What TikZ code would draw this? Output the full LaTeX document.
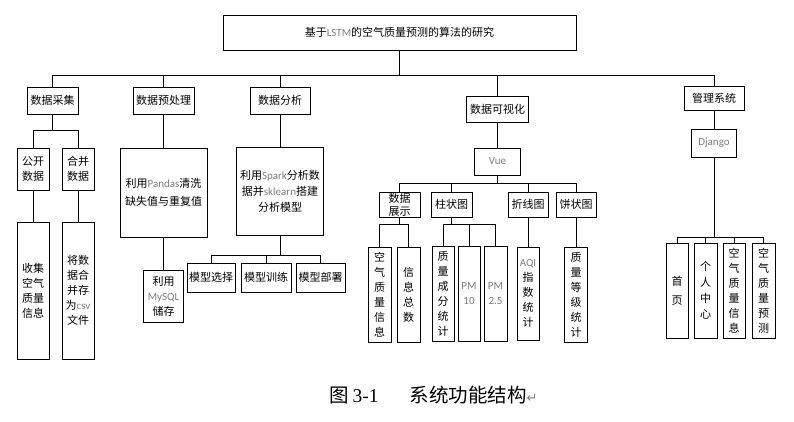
\documentclass[tikz,border=0pt]{standalone}
\usepackage{fontspec}
\setmainfont{Liberation Serif}
\newfontfamily\cjkfont{Noto Sans CJK SC}
\newfontfamily\latfont{Carlito}
\newfontfamily\symfont{DejaVu Sans}
\definecolor{latgray}{RGB}{125,125,125}
\newcommand{\lat}[1]{{\latfont\color{latgray}#1}}
\tikzset{
  box/.style={draw, line width=0.9pt, inner sep=0pt, align=center,
    font=\cjkfont\fontsize{11}{13}\selectfont},
  tallbox/.style={box, font=\cjkfont\fontsize{11}{15}\selectfont},
  link/.style={line width=0.9pt}
}
\begin{document}
\begin{tikzpicture}[x=1pt, y=-1pt]
    \useasboundingbox (0,0) rectangle (794,422);
    % root and first level
    \node[box, minimum width=353pt, minimum height=35pt] (root) at (399.5,32.5) {基于\lat{LSTM}的空气质量预测的算法的研究};
    \node[box, minimum width=51pt, minimum height=27pt] (collect) at (52.5,100.5) {数据采集};
    \node[box, minimum width=61pt, minimum height=27pt] (prep) at (163.5,100.5) {数据预处理};
    \node[box, minimum width=60pt, minimum height=27pt] (analy) at (280,100.5) {数据分析};
    \node[box, minimum width=62pt, minimum height=26pt] (visual) at (497.5,109) {数据可视化};
    \node[box, minimum width=60pt, minimum height=24pt] (manage) at (714,98) {管理系统};
    \coordinate (bus0) at (399.5,75);
    \draw[link] (root.south) -- (bus0);
    \draw[link] (bus0) -| (collect.north);
    \draw[link] (bus0) -| (prep.north);
    \draw[link] (bus0) -| (analy.north);
    \draw[link] (bus0) -| (visual.north);
    \draw[link] (bus0) -| (manage.north);

    % data collection
    \node[tallbox, minimum width=32pt, minimum height=42pt] (open) at (33,169) {公开\\数据};
    \node[tallbox, minimum width=32pt, minimum height=42pt] (merge) at (78,169) {合并\\数据};
    \node[tallbox, minimum width=32pt, minimum height=137pt] (gather) at (33,290.5) {收集\\空气\\质量\\信息};
    \node[tallbox, minimum width=32pt, minimum height=137pt] (savecsv) at (78,290.5) {将数\\据合\\并存\\为\lat{csv}\\文件};
    \coordinate (bus1) at (52.5,130);
    \draw[link] (collect.south) -- (bus1);
    \draw[link] (bus1) -| (open.north);
    \draw[link] (bus1) -| (merge.north);
    \draw[link] (open.south) -- (gather.north);
    \draw[link] (merge.south) -- (savecsv.north);

    % preprocessing
    \node[box, minimum width=87pt, minimum height=89pt, font=\cjkfont\fontsize{11}{18}\selectfont] (pandas) at (163.5,192.5) {利用\lat{Pandas}清洗\\缺失值与重复值};
    \node[tallbox, minimum width=40pt, minimum height=52pt] (mysql) at (163.5,296) {利用\\\lat{MySQL}\\储存};
    \draw[link] (prep.south) -- (pandas.north);
    \draw[link] (pandas.south) -- (mysql.north);

    % analysis
    \node[box, minimum width=87pt, minimum height=88pt, font=\cjkfont\fontsize{11}{16}\selectfont] (spark) at (280,191) {利用\lat{Spark}分析数\\据并\lat{sklearn}搭建\\分析模型};
    \node[box, minimum width=48pt, minimum height=29pt] (choose) at (211,277.5) {模型选择};
    \node[box, minimum width=50pt, minimum height=29pt] (train) at (266,277.5) {模型训练};
    \node[box, minimum width=49pt, minimum height=29pt] (deploy) at (320.5,277.5) {模型部署};
    \coordinate (bus3) at (280,255);
    \draw[link] (analy.south) -- (spark.north);
    \draw[link] (spark.south) -- (bus3);
    \draw[link] (bus3) -| (choose.north);
    \draw[link] (bus3) -| (train.north);
    \draw[link] (bus3) -| (deploy.north);

    % visualisation
    \node[box, minimum width=46pt, minimum height=27pt] (vue) at (497.5,161.5) {\lat{Vue}};
    \node[box, minimum width=41pt, minimum height=25pt] (show) at (399.5,204.5) {数据\\展示};
    \node[box, minimum width=41pt, minimum height=25pt] (bar) at (451.5,204.5) {柱状图};
    \node[box, minimum width=40pt, minimum height=25pt] (line) at (528,204.5) {折线图};
    \node[box, minimum width=40pt, minimum height=25pt] (pie) at (576,204.5) {饼状图};
    \coordinate (bus4) at (497.5,183);
    \draw[link] (visual.south) -- (vue.north);
    \draw[link] (vue.south) -- (bus4);
    \draw[link] (bus4) -| (show.north);
    \draw[link] (bus4) -| (bar.north);
    \draw[link] (bus4) -| (line.north);
    \draw[link] (bus4) -| (pie.north);

    \node[tallbox, minimum width=23pt, minimum height=95pt] (airinfo) at (379.5,294.5) {空\\气\\质\\量\\信\\息};
    \node[tallbox, minimum width=23pt, minimum height=95pt] (total) at (408.5,294.5) {信\\息\\总\\数};
    \node[tallbox, minimum width=22pt, minimum height=95pt] (comp) at (443,293.5) {质\\量\\成\\分\\统\\计};
    \node[tallbox, minimum width=22pt, minimum height=95pt] (pmten) at (469,293.5) {\lat{PM}\\\lat{10}};
    \node[tallbox, minimum width=23pt, minimum height=95pt] (pmtwo) at (495.5,293.5) {\lat{PM}\\\lat{2.5}};
    \node[tallbox, minimum width=22pt, minimum height=93pt] (aqi) at (528,293.5) {\lat{AQI}\\指\\数\\统\\计};
    \node[tallbox, minimum width=23pt, minimum height=95pt] (level) at (576,294.5) {质\\量\\等\\级\\统\\计};
    \coordinate (bus41) at (399.5,224);
    \coordinate (bus42) at (451.5,224);
    \draw[link] (show.south) -- (bus41);
    \draw[link] (bus41) -| (airinfo.north);
    \draw[link] (bus41) -| (total.north);
    \draw[link] (bar.south) -- (bus42);
    \draw[link] (bus42) -| (comp.north);
    \draw[link] (bus42) -| (pmten.north);
    \draw[link] (bus42) -| (pmtwo.north);
    \draw[link] (line.south) -- (aqi.north);
    \draw[link] (pie.south) -- (level.north);

    % management
    \node[box, minimum width=45pt, minimum height=28pt] (django) at (714,143) {\lat{Django}};
    \node[tallbox, minimum width=22pt, minimum height=95pt, font=\cjkfont\fontsize{11}{19}\selectfont] (home) at (677,290.5) {首\\页};
    \node[tallbox, minimum width=23pt, minimum height=95pt, font=\cjkfont\fontsize{11}{16}\selectfont] (user) at (705.5,290.5) {个\\人\\中\\心};
    \node[tallbox, minimum width=22pt, minimum height=95pt] (airdata) at (734,290.5) {空\\气\\质\\量\\信\\息};
    \node[tallbox, minimum width=23pt, minimum height=95pt] (predict) at (763.5,290.5) {空\\气\\质\\量\\预\\测};
    \coordinate (bus5) at (714,237);
    \draw[link] (manage.south) -- (django.north);
    \draw[link] (django.south) -- (bus5);
    \draw[link] (bus5) -| (home.north);
    \draw[link] (bus5) -| (user.north);
    \draw[link] (bus5) -| (airdata.north);
    \draw[link] (bus5) -| (predict.north);

    % caption
    \node[inner sep=0pt, anchor=west, font=\fontsize{19.5}{21}\selectfont] (caption) at (329,395) {{\cjkfont 图}\hspace{4pt}3-1\hspace{31pt}{\cjkfont 系统功能结构}{\symfont\color{latgray}\fontsize{13}{13}\selectfont ↵}};
\end{tikzpicture}
\end{document}
